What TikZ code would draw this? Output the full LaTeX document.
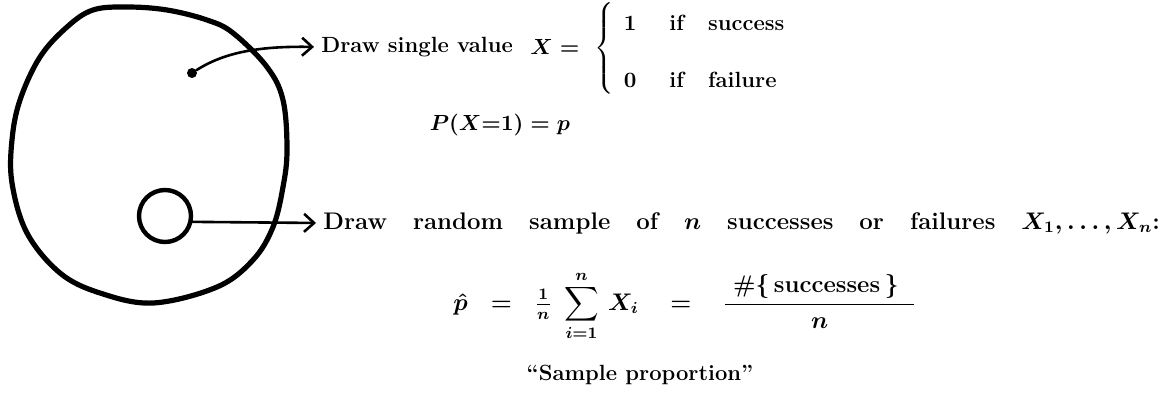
\documentclass[tikz,border=0pt]{standalone}
\usetikzlibrary{arrows.meta, positioning, calc, shapes.geometric}
\usepackage{amsmath}

\begin{document}
\begin{tikzpicture}[
    x=0.5pt, y=-0.5pt,
    txt/.style={font=\fontsize{11}{15}\selectfont\bfseries\boldmath, inner sep=1.5pt, text=black},
    big/.style={txt, font=\fontsize{12}{15}\selectfont\bfseries\boldmath},
    pointer/.style={-{Straight Barb[length=5pt, width=9pt, line width=1.3pt]},
        line width=1.3pt, line cap=round},
    blob/.style={line width=2.6pt, line join=round},
]
\useasboundingbox (0,0) rectangle (1165,406);

% Population
\draw[blob] plot[smooth cycle, tension=0.6] coordinates {
    (127,7) (167,10) (207,20) (233,33) (267,67) (283,100) (287,150)
    (283,187) (273,227) (253,260) (217,287) (153,303) (100,293)
    (60,273) (27,233) (12,183) (12,140) (20,100) (40,57) (67,27) (93,10)};

% Nodes
\node[circle, fill, inner sep=0pt, minimum size=5pt] (unit) at (192,73) {};
\node[ellipse, draw, line width=2.2pt, minimum width=26pt, minimum height=26pt] (sample) at (165,216) {};

\node[txt, anchor=west] (single) at (318,47) {Draw single value};
\node[txt, anchor=west] (xdef) at (527,47) {$X =$};
\node[txt, anchor=west, inner sep=0pt] (cases) at (594,48) {\delimiterfactor=700 \delimitershortfall=14pt
    $\left\{\renewcommand{\arraystretch}{1.9}
    \begin{array}{l@{\hspace{1.5em}}l@{\hspace{1.1em}}l}
    1 & \text{if} & \text{success}\\
    0 & \text{if} & \text{failure}
    \end{array}\right.$};
\node[txt] (prob) at (500,125) {$P(X{=}1) = p$};

\node[big, anchor=west] (random) at (320,223)
    {\spaceskip=13pt Draw random sample of $n$ successes or failures $X_1,\dots,X_n$:};
\node[big, anchor=base west] (estimator) at (450,310) {$\displaystyle \hat p \;\;=\;\; \tfrac{1}{n}\;\sum_{i=1}^{n}\, X_i
    \quad = \quad \frac{\;\#\{\,\text{successes}\,\}\;\;}{n}$};
\node[txt] (name) at (640,375) {``Sample proportion''};

% Arrows
\draw[pointer, shorten >=2pt] (unit) .. controls (225,52) and (260,46) .. (single.west);
\draw[pointer, shorten >=2pt] (sample.-12) -- (random.west);

\end{tikzpicture}
\end{document}
